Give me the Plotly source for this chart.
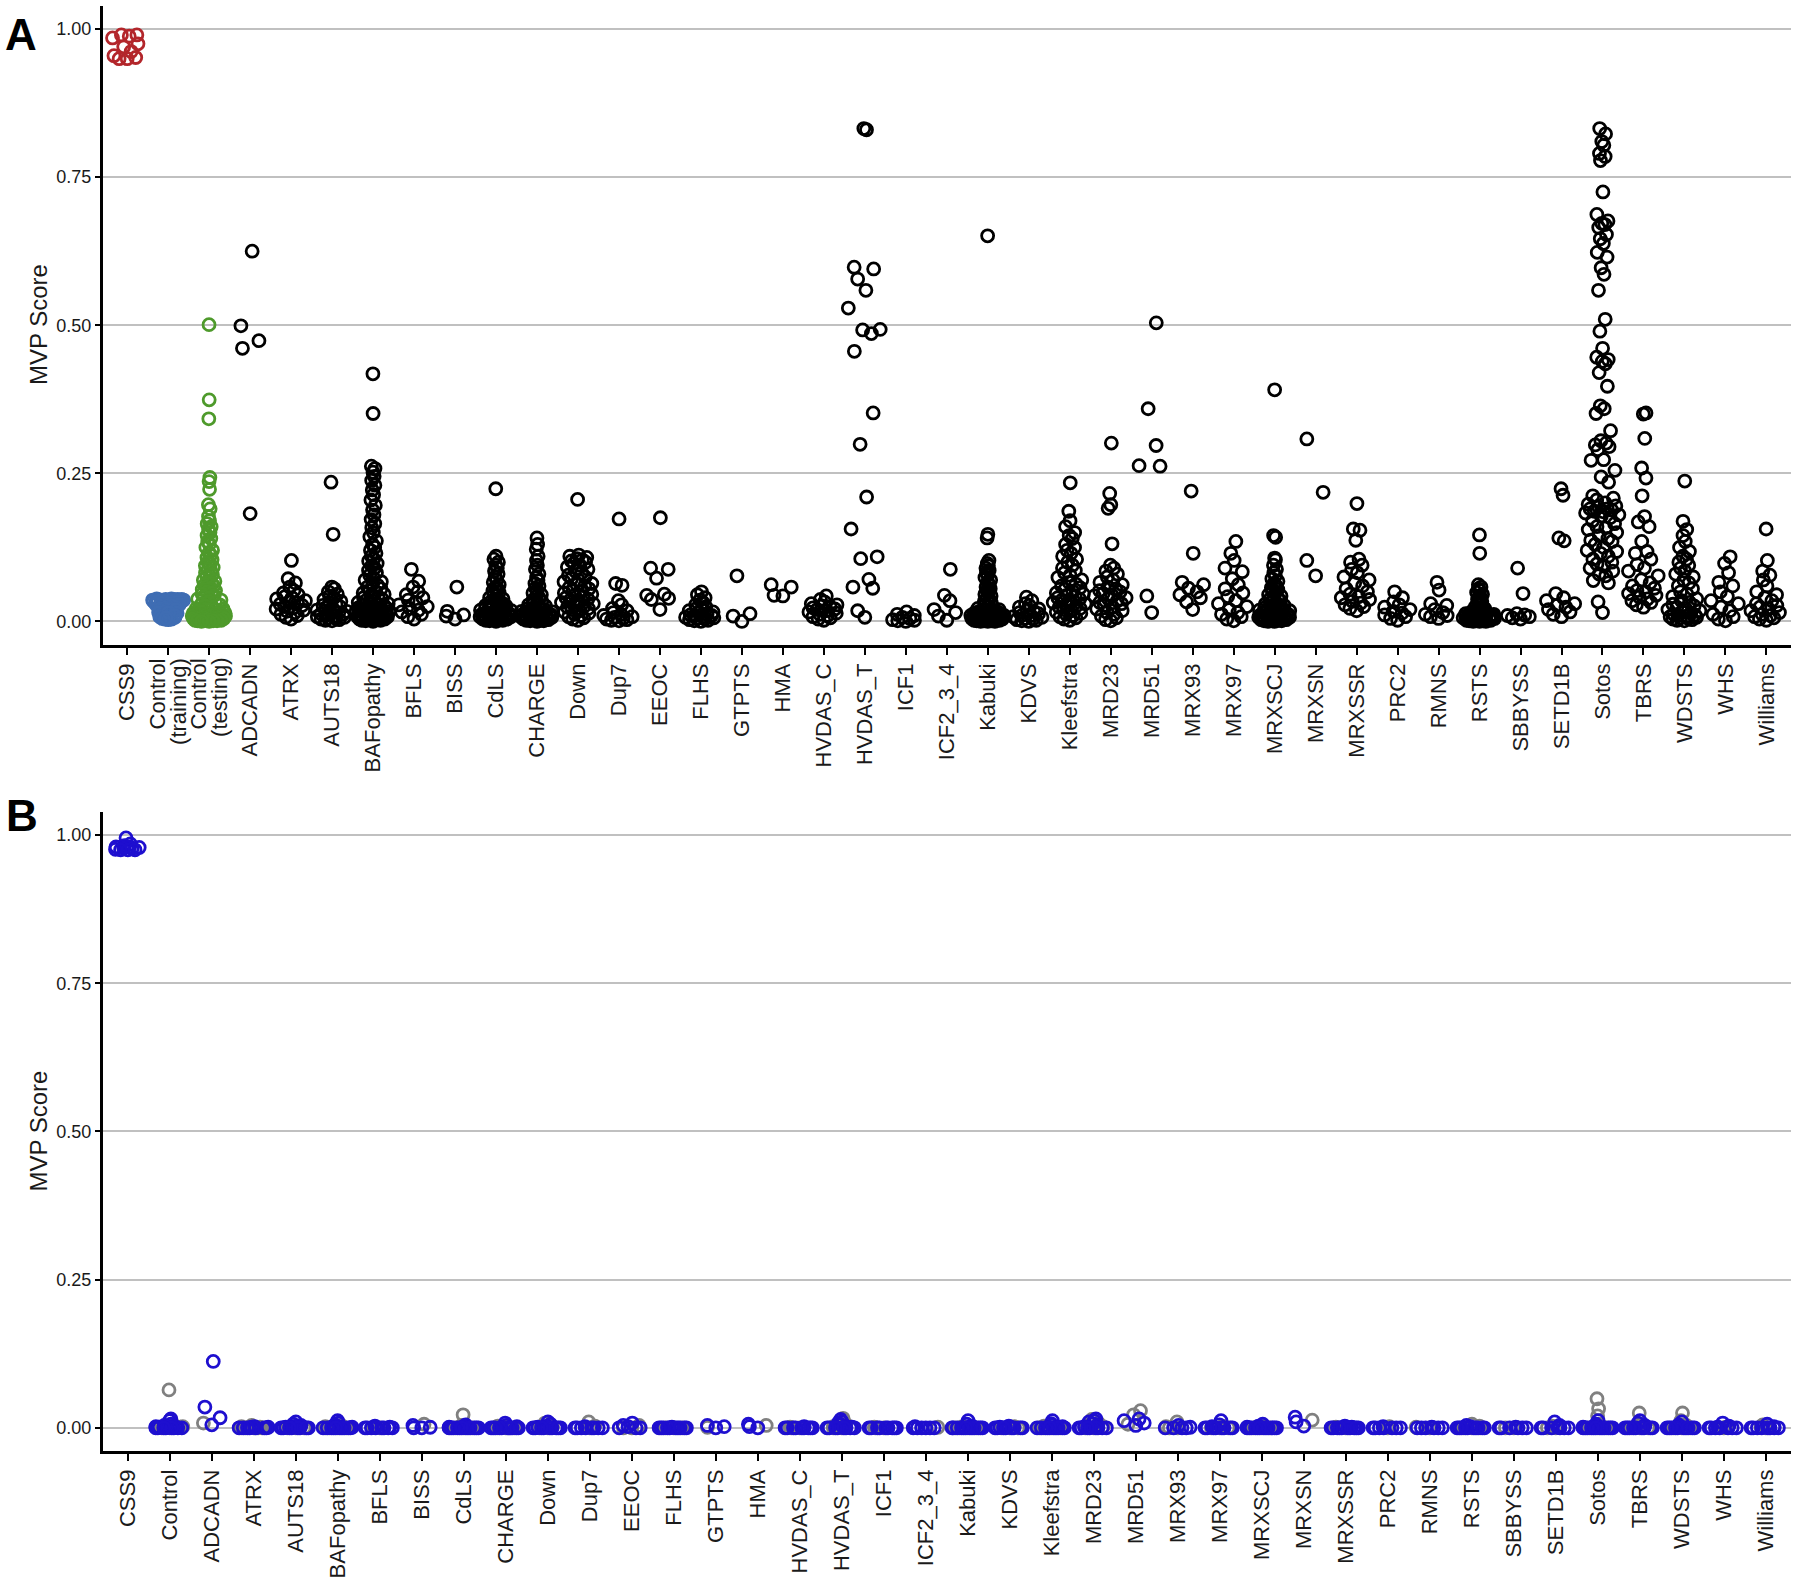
import numpy as np
import plotly.graph_objects as go

# ---------------- Panel A data ----------------
a_labels = ["CSS9", "Control (training)", "Control (testing)", "ADCADN", "ATRX", "AUTS18",
            "BAFopathy", "BFLS", "BISS", "CdLS", "CHARGE", "Down", "Dup7", "EEOC", "FLHS", "GTPTS",
            "HMA", "HVDAS_C", "HVDAS_T", "ICF1", "ICF2_3_4", "Kabuki", "KDVS", "Kleefstra", "MRD23",
            "MRD51", "MRX93", "MRX97", "MRXSCJ", "MRXSN", "MRXSSR", "PRC2", "RMNS", "RSTS", "SBBYSS",
            "SETD1B", "Sotos", "TBRS", "WDSTS", "WHS", "Williams"]

a_css9 = [0.99, 0.99, 0.988, 0.985, 0.975, 0.97, 0.962, 0.955, 0.952, 0.95, 0.95]
a_ctrl_train = [0.038, 0.038, 0.037, 0.037, 0.037, 0.037, 0.037, 0.036, 0.036, 0.036, 0.036, 0.036, 0.036,
                0.035, 0.035, 0.035, 0.035, 0.034, 0.034, 0.034, 0.033, 0.033, 0.032, 0.031, 0.030, 0.029,
                0.028, 0.027, 0.026, 0.025, 0.024, 0.023, 0.022, 0.021, 0.020, 0.019, 0.018, 0.017, 0.016,
                0.015, 0.014, 0.013, 0.012, 0.011, 0.010, 0.009, 0.008, 0.007, 0.006, 0.005, 0.004, 0.004,
                0.003, 0.020, 0.015, 0.010, 0.006]
a_ctrl_test = [0.501, 0.374, 0.342, 0.243, 0.236, 0.223, 0.197, 0.19, 0.177, 0.17, 0.165, 0.16, 0.155, 0.15,
               0.145, 0.14, 0.135, 0.13, 0.125, 0.12, 0.116, 0.112, 0.108, 0.104, 0.1, 0.097, 0.094, 0.091,
               0.088, 0.085, 0.082, 0.079, 0.076, 0.073, 0.07, 0.068, 0.066, 0.064, 0.062, 0.06, 0.058, 0.056,
               0.054, 0.052, 0.05, 0.048, 0.046, 0.044, 0.042, 0.04, 0.038, 0.036, 0.034, 0.032, 0.03, 0.028,
               0.026, 0.024, 0.022, 0.021, 0.02, 0.019, 0.018, 0.017, 0.016, 0.015, 0.014, 0.014, 0.013, 0.013,
               0.012, 0.012, 0.012, 0.011, 0.011, 0.011, 0.01, 0.01, 0.01, 0.01, 0.009, 0.009, 0.009, 0.009,
               0.008, 0.008, 0.008, 0.008, 0.007, 0.007, 0.007, 0.007, 0.006, 0.006, 0.006, 0.006, 0.005,
               0.005, 0.005, 0.005, 0.004, 0.004, 0.004, 0.003, 0.003, 0.003, 0.002, 0.002, 0.002, 0.001,
               0.001, 0.001, 0.0, 0.0]
a_adcadn = [0.625, 0.499, 0.474, 0.461, 0.182]
a_atrx = [0.103, 0.072, 0.065, 0.058, 0.052, 0.048, 0.045, 0.042, 0.04, 0.038, 0.035, 0.033, 0.031, 0.029,
          0.027, 0.025, 0.023, 0.021, 0.019, 0.017, 0.015, 0.012, 0.01, 0.007, 0.004]
a_auts18 = [0.235, 0.147, 0.058, 0.055, 0.05, 0.046, 0.043, 0.04, 0.037, 0.034, 0.031, 0.029, 0.027, 0.025,
            0.023, 0.021, 0.019, 0.017, 0.016, 0.014, 0.013, 0.012, 0.01, 0.009, 0.008, 0.007, 0.006, 0.005,
            0.004, 0.003, 0.002, 0.001]
a_bafopathy = [0.418, 0.351, 0.262, 0.258, 0.252, 0.245, 0.238, 0.23, 0.222, 0.214, 0.205, 0.196, 0.188, 0.18,
               0.172, 0.165, 0.158, 0.15, 0.143, 0.136, 0.13, 0.125, 0.12, 0.115, 0.11, 0.106, 0.102, 0.098,
               0.094, 0.09, 0.086, 0.082, 0.078, 0.074, 0.07, 0.067, 0.064, 0.061, 0.058, 0.055, 0.052, 0.05,
               0.048, 0.046, 0.044, 0.042, 0.04, 0.038, 0.036, 0.034, 0.032, 0.03, 0.029, 0.028, 0.027, 0.026,
               0.025, 0.024, 0.023, 0.022, 0.021, 0.02, 0.019, 0.018, 0.017, 0.016, 0.015, 0.014, 0.013, 0.012,
               0.011, 0.01, 0.009, 0.008, 0.007, 0.006, 0.005, 0.004, 0.003, 0.002, 0.001, 0.0, 0.015, 0.012,
               0.01, 0.008, 0.006, 0.004, 0.002, 0.011, 0.009, 0.007, 0.005, 0.003, 0.013, 0.017, 0.019, 0.021]
a_bfls = [0.088, 0.068, 0.058, 0.05, 0.045, 0.04, 0.036, 0.032, 0.028, 0.025, 0.022, 0.019, 0.016, 0.012,
          0.008, 0.004]
a_biss = [0.058, 0.017, 0.011, 0.009, 0.004]
a_cdls = [0.224, 0.11, 0.105, 0.1, 0.095, 0.09, 0.085, 0.08, 0.075, 0.07, 0.066, 0.062, 0.058, 0.055, 0.052,
          0.049, 0.046, 0.043, 0.04, 0.038, 0.036, 0.034, 0.032, 0.03, 0.029, 0.028, 0.027, 0.026, 0.025,
          0.024, 0.023, 0.022, 0.021, 0.02, 0.019, 0.018, 0.017, 0.016, 0.015, 0.014, 0.013, 0.012, 0.011,
          0.01, 0.009, 0.008, 0.007, 0.006, 0.005, 0.004, 0.003, 0.002, 0.001, 0.0, 0.014, 0.012, 0.01,
          0.008, 0.006, 0.004, 0.002, 0.009, 0.007, 0.005, 0.003, 0.011]
a_charge = [0.141, 0.13, 0.122, 0.11, 0.103, 0.095, 0.088, 0.08, 0.074, 0.069, 0.064, 0.06, 0.056, 0.052,
            0.048, 0.045, 0.042, 0.039, 0.036, 0.034, 0.032, 0.03, 0.028, 0.026, 0.024, 0.022, 0.021, 0.02,
            0.019, 0.018, 0.017, 0.016, 0.015, 0.014, 0.013, 0.012, 0.011, 0.01, 0.009, 0.008, 0.007, 0.006,
            0.005, 0.004, 0.003, 0.002, 0.001, 0.0, 0.013, 0.011, 0.009, 0.007, 0.005, 0.003, 0.001, 0.01,
            0.008, 0.006, 0.004, 0.002, 0.012, 0.015]
a_down = [0.206, 0.112, 0.11, 0.108, 0.106, 0.104, 0.102, 0.1, 0.098, 0.095, 0.092, 0.088, 0.085, 0.082, 0.078,
          0.075, 0.072, 0.07, 0.067, 0.064, 0.062, 0.06, 0.057, 0.055, 0.052, 0.05, 0.048, 0.046, 0.044, 0.042,
          0.04, 0.038, 0.036, 0.034, 0.032, 0.03, 0.028, 0.026, 0.024, 0.022, 0.02, 0.018, 0.016, 0.014, 0.012,
          0.01, 0.008, 0.006, 0.004, 0.002]
a_dup7 = [0.173, 0.064, 0.061, 0.035, 0.028, 0.022, 0.018, 0.015, 0.012, 0.01, 0.008, 0.007, 0.005, 0.004,
          0.003, 0.002, 0.001]
a_eeoc = [0.175, 0.09, 0.088, 0.073, 0.046, 0.044, 0.039, 0.037, 0.02]
a_flhs = [0.05, 0.045, 0.04, 0.036, 0.032, 0.028, 0.025, 0.022, 0.02, 0.018, 0.016, 0.014, 0.012, 0.011, 0.01,
          0.009, 0.008, 0.007, 0.006, 0.005, 0.004, 0.003, 0.002, 0.001, 0.0]
a_gtpts = [0.077, 0.013, 0.009, 0.0]
a_hma = [0.062, 0.058, 0.044, 0.043]
a_hvdas_c = [0.043, 0.037, 0.033, 0.03, 0.028, 0.026, 0.025, 0.023, 0.021, 0.02, 0.018, 0.016, 0.014, 0.012,
             0.01, 0.008, 0.006, 0.004, 0.002]
a_hvdas_t = [0.832, 0.83, 0.598, 0.595, 0.578, 0.559, 0.529, 0.493, 0.492, 0.486, 0.456, 0.352, 0.299, 0.21,
             0.156, 0.109, 0.106, 0.071, 0.058, 0.056, 0.018, 0.007]
a_icf1 = [0.016, 0.012, 0.01, 0.007, 0.005, 0.003, 0.002, 0.001, 0.0]
a_icf2_3_4 = [0.088, 0.044, 0.035, 0.02, 0.015, 0.009, 0.002]
a_kabuki = [0.651, 0.147, 0.141, 0.103, 0.098, 0.094, 0.09, 0.086, 0.082, 0.078, 0.074, 0.07, 0.066, 0.062,
            0.058, 0.055, 0.052, 0.049, 0.046, 0.043, 0.04, 0.037, 0.034, 0.031, 0.028, 0.025, 0.022, 0.02,
            0.019, 0.018, 0.017, 0.016, 0.015, 0.014, 0.014, 0.013, 0.013, 0.012, 0.012, 0.011, 0.011, 0.01,
            0.01, 0.01, 0.009, 0.009, 0.009, 0.008, 0.008, 0.008, 0.007, 0.007, 0.007, 0.006, 0.006, 0.006,
            0.005, 0.005, 0.005, 0.004, 0.004, 0.004, 0.003, 0.003, 0.003, 0.002, 0.002, 0.002, 0.001, 0.001,
            0.001, 0.0, 0.0, 0.0]
a_kdvs = [0.041, 0.035, 0.03, 0.027, 0.024, 0.021, 0.019, 0.017, 0.015, 0.013, 0.011, 0.01, 0.008, 0.007,
          0.005, 0.004, 0.003, 0.002, 0.001, 0.0]
a_kleefstra = [0.234, 0.186, 0.17, 0.16, 0.15, 0.145, 0.14, 0.13, 0.125, 0.12, 0.115, 0.11, 0.105, 0.1, 0.095,
               0.09, 0.086, 0.082, 0.078, 0.074, 0.07, 0.066, 0.063, 0.06, 0.057, 0.054, 0.051, 0.048, 0.046,
               0.044, 0.042, 0.04, 0.038, 0.036, 0.034, 0.032, 0.03, 0.028, 0.026, 0.024, 0.022, 0.02, 0.018,
               0.016, 0.014, 0.012, 0.01, 0.008, 0.006, 0.004, 0.002]
a_mrd23 = [0.301, 0.216, 0.197, 0.191, 0.131, 0.095, 0.09, 0.085, 0.08, 0.075, 0.07, 0.066, 0.062, 0.058, 0.055,
           0.052, 0.05, 0.047, 0.045, 0.043, 0.04, 0.038, 0.035, 0.032, 0.03, 0.027, 0.024, 0.021, 0.018, 0.015,
           0.012, 0.009, 0.006, 0.003, 0.001]
a_mrd51 = [0.504, 0.359, 0.297, 0.263, 0.262, 0.043, 0.015]
a_mrx93 = [0.22, 0.115, 0.066, 0.062, 0.056, 0.05, 0.045, 0.04, 0.033, 0.02]
a_mrx97 = [0.135, 0.115, 0.103, 0.09, 0.084, 0.072, 0.062, 0.055, 0.048, 0.042, 0.035, 0.03, 0.025, 0.02,
           0.015, 0.012, 0.008, 0.004, 0.001]
a_mrxscj = [0.391, 0.145, 0.142, 0.107, 0.104, 0.095, 0.088, 0.082, 0.077, 0.072, 0.068, 0.064, 0.06, 0.057,
            0.054, 0.051, 0.048, 0.045, 0.043, 0.041, 0.039, 0.037, 0.035, 0.033, 0.031, 0.029, 0.027, 0.025,
            0.024, 0.023, 0.022, 0.021, 0.02, 0.019, 0.018, 0.017, 0.016, 0.015, 0.014, 0.013, 0.012, 0.011,
            0.011, 0.01, 0.01, 0.009, 0.009, 0.008, 0.008, 0.007, 0.007, 0.006, 0.006, 0.005, 0.005, 0.004,
            0.004, 0.003, 0.003, 0.002, 0.002, 0.001, 0.001, 0.0, 0.0]
a_mrxsn = [0.308, 0.218, 0.103, 0.077]
a_mrxssr = [0.199, 0.156, 0.154, 0.137, 0.105, 0.1, 0.095, 0.088, 0.082, 0.075, 0.07, 0.065, 0.06, 0.055, 0.05,
            0.046, 0.042, 0.04, 0.037, 0.034, 0.031, 0.028, 0.025, 0.022, 0.018]
a_prc2 = [0.05, 0.04, 0.033, 0.028, 0.024, 0.02, 0.017, 0.014, 0.011, 0.008, 0.005, 0.002]
a_rmns = [0.066, 0.053, 0.03, 0.027, 0.02, 0.015, 0.012, 0.01, 0.008, 0.005]
a_rsts = [0.146, 0.115, 0.062, 0.058, 0.055, 0.052, 0.049, 0.046, 0.043, 0.04, 0.037, 0.034, 0.031, 0.028,
          0.025, 0.022, 0.02, 0.018, 0.017, 0.016, 0.015, 0.014, 0.013, 0.012, 0.012, 0.011, 0.011, 0.01,
          0.01, 0.009, 0.009, 0.008, 0.008, 0.007, 0.007, 0.006, 0.006, 0.005, 0.005, 0.004, 0.004, 0.003,
          0.003, 0.002, 0.002, 0.001, 0.001, 0.0, 0.0, 0.0, 0.006, 0.004, 0.008, 0.002]
a_sbbyss = [0.09, 0.047, 0.013, 0.011, 0.01, 0.008, 0.006, 0.004]
a_setd1b = [0.224, 0.213, 0.141, 0.136, 0.047, 0.04, 0.035, 0.03, 0.027, 0.024, 0.02, 0.016, 0.012, 0.008]
a_sotos = [0.832, 0.823, 0.81, 0.804, 0.79, 0.785, 0.778, 0.725, 0.687, 0.676, 0.672, 0.67, 0.665, 0.653,
           0.646, 0.638, 0.623, 0.615, 0.597, 0.586, 0.559, 0.51, 0.49, 0.461, 0.446, 0.442, 0.439, 0.435,
           0.42, 0.397, 0.364, 0.359, 0.351, 0.322, 0.305, 0.301, 0.298, 0.295, 0.29, 0.273, 0.272, 0.255,
           0.244, 0.235, 0.212, 0.208, 0.205, 0.2, 0.198, 0.195, 0.193, 0.19, 0.19, 0.188, 0.186, 0.185,
           0.183, 0.18, 0.178, 0.175, 0.17, 0.165, 0.16, 0.158, 0.155, 0.15, 0.145, 0.14, 0.137, 0.135, 0.13,
           0.125, 0.12, 0.118, 0.115, 0.11, 0.105, 0.1, 0.097, 0.093, 0.09, 0.085, 0.08, 0.077, 0.069, 0.065,
           0.033, 0.015]
a_tbrs = [0.352, 0.35, 0.309, 0.259, 0.242, 0.212, 0.177, 0.168, 0.16, 0.135, 0.118, 0.115, 0.105, 0.096, 0.09,
          0.085, 0.077, 0.07, 0.065, 0.06, 0.056, 0.052, 0.05, 0.047, 0.044, 0.041, 0.038, 0.035, 0.032, 0.028,
          0.024]
a_wdsts = [0.237, 0.169, 0.155, 0.145, 0.135, 0.125, 0.118, 0.11, 0.105, 0.1, 0.095, 0.09, 0.085, 0.08, 0.075,
           0.07, 0.065, 0.06, 0.055, 0.05, 0.046, 0.042, 0.038, 0.035, 0.032, 0.029, 0.026, 0.024, 0.022, 0.02,
           0.018, 0.016, 0.014, 0.012, 0.011, 0.01, 0.009, 0.008, 0.007, 0.006, 0.005, 0.004, 0.003, 0.002,
           0.001]
a_whs = [0.109, 0.098, 0.082, 0.066, 0.06, 0.05, 0.042, 0.035, 0.03, 0.024, 0.018, 0.012, 0.008, 0.004, 0.001]
a_williams = [0.156, 0.103, 0.085, 0.078, 0.07, 0.06, 0.05, 0.045, 0.04, 0.035, 0.03, 0.027, 0.024, 0.021,
              0.018, 0.015, 0.012, 0.01, 0.008, 0.006, 0.004, 0.002]

a_values = [a_css9, a_ctrl_train, a_ctrl_test, a_adcadn, a_atrx, a_auts18, a_bafopathy, a_bfls, a_biss, a_cdls,
            a_charge, a_down, a_dup7, a_eeoc, a_flhs, a_gtpts, a_hma, a_hvdas_c, a_hvdas_t, a_icf1, a_icf2_3_4,
            a_kabuki, a_kdvs, a_kleefstra, a_mrd23, a_mrd51, a_mrx93, a_mrx97, a_mrxscj, a_mrxsn, a_mrxssr,
            a_prc2, a_rmns, a_rsts, a_sbbyss, a_setd1b, a_sotos, a_tbrs, a_wdsts, a_whs, a_williams]

# ---------------- Panel B data ----------------
b_labels = ["CSS9", "Control", "ADCADN", "ATRX", "AUTS18", "BAFopathy", "BFLS", "BISS", "CdLS", "CHARGE",
            "Down", "Dup7", "EEOC", "FLHS", "GTPTS", "HMA", "HVDAS_C", "HVDAS_T", "ICF1", "ICF2_3_4", "Kabuki",
            "KDVS", "Kleefstra", "MRD23", "MRD51", "MRX93", "MRX97", "MRXSCJ", "MRXSN", "MRXSSR", "PRC2",
            "RMNS", "RSTS", "SBBYSS", "SETD1B", "Sotos", "TBRS", "WDSTS", "WHS", "Williams"]

b_blue = [
    [0.995, 0.985, 0.982, 0.98, 0.98, 0.979, 0.978, 0.977, 0.976, 0.975, 0.975, 0.975],
    [0.015, 0.012, 0.006, 0.004, 0.003, 0.002, 0.002, 0.001, 0.001, 0.001, 0.0, 0.0, 0.0, 0.0, 0.0, 0.0, 0.0, 0.0],
    [0.112, 0.035, 0.017, 0.005],
    [0.002, 0.001, 0.001, 0.0, 0.0, 0.0, 0.0, 0.0, 0.0, 0.0],
    [0.01, 0.006, 0.004, 0.002, 0.001, 0.0, 0.0, 0.0, 0.0, 0.0, 0.0, 0.0, 0.0],
    [0.012, 0.008, 0.005, 0.003, 0.002, 0.001, 0.0, 0.0, 0.0, 0.0, 0.0, 0.0, 0.0, 0.0, 0.0, 0.0],
    [0.003, 0.001, 0.0, 0.0, 0.0, 0.0, 0.0, 0.0, 0.0, 0.0],
    [0.004, 0.001, 0.0, 0.0],
    [0.005, 0.003, 0.001, 0.0, 0.0, 0.0, 0.0, 0.0, 0.0, 0.0, 0.0, 0.0, 0.0, 0.0, 0.0],
    [0.008, 0.004, 0.002, 0.0, 0.0, 0.0, 0.0, 0.0, 0.0, 0.0, 0.0, 0.0, 0.0],
    [0.01, 0.006, 0.003, 0.001, 0.0, 0.0, 0.0, 0.0, 0.0, 0.0, 0.0, 0.0, 0.0],
    [0.002, 0.0, 0.0, 0.0, 0.0, 0.0, 0.0, 0.0, 0.0],
    [0.008, 0.004, 0.002, 0.0, 0.0, 0.0],
    [0.001, 0.0, 0.0, 0.0, 0.0, 0.0, 0.0, 0.0, 0.0, 0.0, 0.0],
    [0.004, 0.002, 0.0],
    [0.006, 0.002, 0.0],
    [0.002, 0.0, 0.0, 0.0, 0.0, 0.0, 0.0, 0.0, 0.0, 0.0],
    [0.014, 0.01, 0.008, 0.005, 0.003, 0.001, 0.0, 0.0, 0.0, 0.0, 0.0, 0.0, 0.0, 0.0],
    [0.0, 0.0, 0.0, 0.0, 0.0, 0.0, 0.0, 0.0, 0.0],
    [0.002, 0.0, 0.0, 0.0, 0.0, 0.0, 0.0],
    [0.012, 0.006, 0.003, 0.001, 0.0, 0.0, 0.0, 0.0, 0.0, 0.0, 0.0, 0.0, 0.0, 0.0, 0.0, 0.0],
    [0.003, 0.001, 0.0, 0.0, 0.0, 0.0, 0.0, 0.0, 0.0, 0.0],
    [0.012, 0.007, 0.004, 0.002, 0.0, 0.0, 0.0, 0.0, 0.0, 0.0, 0.0, 0.0, 0.0, 0.0],
    [0.015, 0.012, 0.01, 0.007, 0.004, 0.002, 0.0, 0.0, 0.0, 0.0, 0.0, 0.0, 0.0, 0.0],
    [0.015, 0.012, 0.008, 0.004],
    [0.004, 0.001, 0.0, 0.0, 0.0, 0.0],
    [0.012, 0.005, 0.002, 0.0, 0.0, 0.0, 0.0, 0.0, 0.0, 0.0, 0.0],
    [0.006, 0.003, 0.001, 0.0, 0.0, 0.0, 0.0, 0.0, 0.0, 0.0, 0.0, 0.0, 0.0, 0.0, 0.0],
    [0.018, 0.01, 0.003],
    [0.003, 0.001, 0.0, 0.0, 0.0, 0.0, 0.0, 0.0, 0.0, 0.0, 0.0, 0.0],
    [0.002, 0.0, 0.0, 0.0, 0.0, 0.0, 0.0, 0.0],
    [0.001, 0.0, 0.0, 0.0, 0.0, 0.0, 0.0],
    [0.004, 0.002, 0.0, 0.0, 0.0, 0.0, 0.0, 0.0, 0.0, 0.0, 0.0, 0.0],
    [0.001, 0.0, 0.0, 0.0, 0.0, 0.0, 0.0],
    [0.01, 0.004, 0.001, 0.0, 0.0, 0.0, 0.0, 0.0, 0.0],
    [0.012, 0.006, 0.003, 0.001, 0.0, 0.0, 0.0, 0.0, 0.0, 0.0, 0.0, 0.0, 0.0, 0.0, 0.0, 0.0],
    [0.012, 0.008, 0.004, 0.002, 0.0, 0.0, 0.0, 0.0, 0.0, 0.0, 0.0, 0.0, 0.0],
    [0.01, 0.005, 0.002, 0.0, 0.0, 0.0, 0.0, 0.0, 0.0, 0.0, 0.0, 0.0, 0.0],
    [0.008, 0.003, 0.001, 0.0, 0.0, 0.0, 0.0, 0.0, 0.0, 0.0],
    [0.006, 0.002, 0.0, 0.0, 0.0, 0.0, 0.0, 0.0, 0.0, 0.0],
]
b_gray = [
    [],
    [0.064, 0.004, 0.002, 0.001, 0.0, 0.0],
    [0.008],
    [0.004, 0.002, 0.001, 0.0, 0.0, 0.0, 0.0, 0.0],
    [0.002, 0.0, 0.0, 0.0],
    [0.004, 0.002, 0.0, 0.0, 0.0, 0.0],
    [0.001, 0.0],
    [0.006],
    [0.022, 0.004, 0.0, 0.0, 0.0],
    [0.003, 0.001, 0.0, 0.0, 0.0],
    [0.008, 0.002, 0.0, 0.0],
    [0.01, 0.003, 0.0],
    [0.004, 0.0, 0.0],
    [0.0, 0.0, 0.0],
    [0.001],
    [0.004],
    [0.001, 0.0, 0.0],
    [0.016, 0.006, 0.002, 0.0, 0.0],
    [0.001, 0.0, 0.0],
    [0.001],
    [0.002, 0.0, 0.0, 0.0, 0.0],
    [0.002, 0.0, 0.0, 0.0],
    [0.003, 0.0, 0.0, 0.0, 0.0],
    [0.014, 0.008, 0.002, 0.0, 0.0],
    [0.029, 0.022, 0.006],
    [0.01, 0.002, 0.0, 0.0],
    [0.003, 0.0, 0.0, 0.0],
    [0.002, 0.0, 0.0, 0.0],
    [0.013],
    [0.001, 0.0],
    [0.002, 0.0],
    [0.001, 0.0],
    [0.006, 0.003, 0.0, 0.0, 0.0],
    [0.0, 0.0],
    [0.003, 0.0, 0.0],
    [0.049, 0.032, 0.02, 0.006, 0.002, 0.0, 0.0, 0.0],
    [0.025, 0.004, 0.0, 0.0, 0.0],
    [0.025, 0.012, 0.004, 0.0, 0.0, 0.0],
    [0.001, 0.0],
    [0.005, 0.002, 0.0],
]

y_tickvals = [0, 0.25, 0.5, 0.75, 1.0]
y_ticktext = ["0.00", "0.25", "0.50", "0.75", "1.00"]


# ---------------- quasirandom (vipor-like) horizontal offsets ----------------
def bw_nrd0(v):
    n = len(v)
    if n < 2:
        return 0.01
    sd = np.std(v, ddof=1)
    q75, q25 = np.percentile(v, [75, 25])
    lo = min(sd, (q75 - q25) / 1.34)
    if lo <= 0:
        lo = sd if sd > 0 else 0.01
    return max(0.9 * lo * n ** -0.2, 0.002)


def vdc(k, base=2):
    x, denom = 0.0, 1.0
    while k:
        denom *= base
        k, r = divmod(k, base)
        x += r / denom
    return x


def quasi_offsets(vals, width):
    v = np.asarray(vals, float)
    n = len(v)
    if n == 0:
        return np.array([])
    if n == 1:
        return np.zeros(1)
    bw = bw_nrd0(v)
    d = np.exp(-0.5 * ((v[:, None] - v[None, :]) / bw) ** 2).sum(1)
    d = d / d.max()
    order = np.argsort(v, kind="stable")
    off = np.zeros(n)
    for rank, idx in enumerate(order):
        off[idx] = (vdc(rank + 1) - 0.5) * 2 * d[idx] * width
    return off


FONT = "Liberation Sans, Arial, Helvetica, sans-serif"
WIDTH_A = 0.43
WIDTH_B = 0.40
MSIZE = 12
MLINE = 2.8

a_colors = {0: "#B3262B", 1: "#3F6DB3", 2: "#4E9A2B"}

fig = go.Figure()

for i, vals in enumerate(a_values):
    off = quasi_offsets(vals, WIDTH_A)
    col = a_colors.get(i, "#000000")
    fig.add_trace(go.Scatter(
        x=i + off, y=vals, mode="markers", xaxis="x", yaxis="y",
        marker=dict(symbol="circle-open", size=MSIZE, color=col, line=dict(width=MLINE, color=col)),
        showlegend=False, hoverinfo="skip"))

gx, gy, bx, by = [], [], [], []
for i, (bl, gr) in enumerate(zip(b_blue, b_gray)):
    allv = list(gr) + list(bl)
    off = quasi_offsets(allv, WIDTH_B)
    ng = len(gr)
    gx += list(i + off[:ng]); gy += list(gr)
    bx += list(i + off[ng:]); by += list(bl)

fig.add_trace(go.Scatter(
    x=gx, y=gy, mode="markers", xaxis="x2", yaxis="y2",
    marker=dict(symbol="circle-open", size=MSIZE, color="#808080", line=dict(width=MLINE, color="#808080")),
    showlegend=False, hoverinfo="skip"))
fig.add_trace(go.Scatter(
    x=bx, y=by, mode="markers", xaxis="x2", yaxis="y2",
    marker=dict(symbol="circle-open", size=MSIZE, color="#1E0FCF", line=dict(width=MLINE, color="#1E0FCF")),
    showlegend=False, hoverinfo="skip"))

W, H = 1800, 1585
x0, x1 = 102.6 / W, 1791 / W
TICKFONT = dict(family=FONT, size=22, color="#1a1a1a")
common_x = dict(showgrid=False, zeroline=False, showline=True, linecolor="black", linewidth=2.5,
                ticks="outside", ticklen=7, tickwidth=1.5, tickcolor="black", tickangle=-90,
                tickfont=TICKFONT, fixedrange=True)
common_y = dict(showgrid=True, gridcolor="#C0C0C0", zeroline=False, showline=True, linecolor="black",
                linewidth=2.5, ticks="outside", ticklen=5, tickwidth=1.5, tickcolor="black",
                tickvals=y_tickvals, ticktext=y_ticktext,
                tickfont=dict(family=FONT, size=18, color="#1a1a1a"), fixedrange=True)

# two-line labels for the Control groups in panel A are drawn as rotated text lines
a_ticktext = [("" if lab.startswith("Control") else lab) for lab in a_labels]
annotations = [
    dict(text="<b>A</b>", x=21 / W, y=1 - 34 / H, xref="paper", yref="paper", showarrow=False,
         font=dict(family=FONT, size=44, color="black"), xanchor="center", yanchor="middle"),
    dict(text="<b>B</b>", x=21.5 / W, y=1 - 815.5 / H, xref="paper", yref="paper", showarrow=False,
         font=dict(family=FONT, size=44, color="black"), xanchor="center", yanchor="middle"),
    dict(text="MVP Score", x=38 / W, y=1 - 325 / H, xref="paper", yref="paper", showarrow=False,
         textangle=-90, font=dict(family=FONT, size=24, color="#1a1a1a"),
         xanchor="center", yanchor="middle"),
    dict(text="MVP Score", x=38 / W, y=1 - 1131.5 / H, xref="paper", yref="paper", showarrow=False,
         textangle=-90, font=dict(family=FONT, size=24, color="#1a1a1a"),
         xanchor="center", yanchor="middle"),
]
for i, lab in enumerate(a_labels):
    if lab.startswith("Control"):
        first, second = lab.split(" ", 1)
        for dx, part in ((-0.25, first), (0.25, second)):
            annotations.append(dict(text=part, x=i + dx, y=1 - 656 / H, xref="x", yref="paper",
                                    showarrow=False, textangle=-90, font=TICKFONT,
                                    xanchor="center", yanchor="top"))

fig.update_layout(
    width=W, height=H, autosize=False,
    margin=dict(l=0, r=0, t=0, b=0),
    paper_bgcolor="white", plot_bgcolor="white",
    xaxis=dict(domain=[x0, x1], range=[-0.6, len(a_labels) - 0.4], anchor="y",
               tickvals=list(range(len(a_labels))), ticktext=a_ticktext, **common_x),
    yaxis=dict(domain=[1 - 645 / H, 1 - 6 / H], range=[-0.0398, 1.0389], anchor="x", gridwidth=2.2, **common_y),
    xaxis2=dict(domain=[x0, x1], range=[-0.6, len(b_labels) - 0.4], anchor="y2",
                tickvals=list(range(len(b_labels))), ticktext=b_labels, **common_x),
    yaxis2=dict(domain=[1 - 1451 / H, 1 - 812 / H], range=[-0.0391, 1.0388], anchor="x2", gridwidth=1.5,
                **common_y),
    annotations=annotations,
)

fig.write_html("out.html", config={"displayModeBar": False},
               post_script="document.body.style.margin='0';")
